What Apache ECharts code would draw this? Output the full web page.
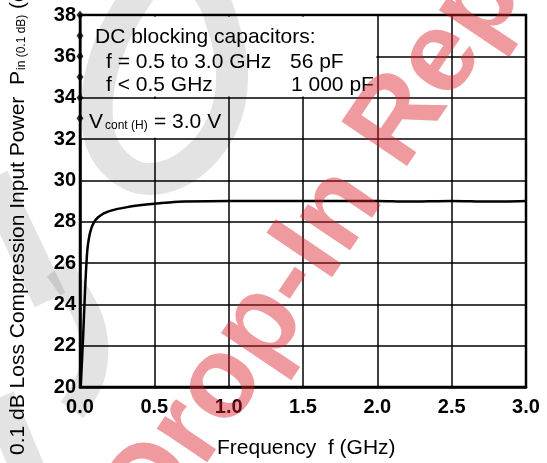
<!DOCTYPE html>
<html>
<head>
<meta charset="utf-8">
<script src="https://cdn.jsdelivr.net/npm/echarts@6/dist/echarts.min.js"></script>
<style>
html,body{margin:0;padding:0;background:#fff;}
#c{width:547px;height:463px;}
</style>
</head>
<body>
<div id="c"></div>
<script>
// ---- data ----
const freqGHz = [0.005, 0.022, 0.036, 0.049, 0.06, 0.075, 0.095, 0.12, 0.16, 0.22, 0.3, 0.4, 0.5, 0.6, 0.7, 1.0, 1.5, 2.0, 2.2, 2.5, 2.75, 3.0];
const pinDbm  = [20.0, 22.6, 25.0, 26.6, 27.2, 27.65, 27.98, 28.2, 28.4, 28.56, 28.68, 28.79, 28.87, 28.93, 28.97, 29.0, 29.0, 29.0, 28.97, 29.0, 28.97, 29.0];
const xTicks = [0.0, 0.5, 1.0, 1.5, 2.0, 2.5, 3.0];
const yTicks = [20, 22, 24, 26, 28, 30, 32, 34, 36, 38];
const axisDotValues = [33, 34, 35, 36, 37, 38];
// white boxes behind the annotations (data units): [x0, y0, x1, y1]
const boxMain = [0.012, 37.92, 1.993, 34.06];
const boxVcont = [0.012, 33.94, 0.994, 32.06];

const FONT = '"Liberation Sans", Arial, Helvetica, sans-serif';
const chart = echarts.init(document.getElementById('c'), null, {renderer: 'canvas'});

function txt(text, x, y, size, extra) {
  return Object.assign({
    type: 'text', x: x, y: y, z: 50,
    style: {
      text: text, font: size + 'px ' + FONT, fill: '#000',
      align: 'left', verticalAlign: 'middle',
      textAlign: 'left', textVerticalAlign: 'middle'
    }
  }, extra || {});
}
// faint grey background watermark strokes (decoration, page pixels)
function greyStroke(points, width) {
  return {
    type: 'polyline', z: 40, silent: true,
    shape: {points: points, smooth: 0.35},
    style: {stroke: 'rgba(0,0,0,0.11)', lineWidth: width, fill: null, lineCap: 'butt', lineJoin: 'round'}
  };
}

const wmAngle = 56 * Math.PI / 180;

const option = {
  backgroundColor: '#fff',
  animation: false,
  grid: {left: 80, right: 21, top: 15, bottom: 76, show: true, borderColor: '#000', borderWidth: 2.5, containLabel: false},
  xAxis: {
    type: 'value', min: xTicks[0], max: xTicks[xTicks.length - 1], interval: 0.5,
    axisLine: {show: true, lineStyle: {color: '#000', width: 2.5}},
    axisTick: {show: false},
    splitLine: {show: true, lineStyle: {color: '#000', width: 1.5}},
    axisLabel: {color: '#000', fontSize: 20, fontWeight: 'bold', fontFamily: FONT, margin: 10,
      formatter: v => v.toFixed(1)}
  },
  yAxis: {
    type: 'value', min: yTicks[0], max: yTicks[yTicks.length - 1], interval: 2,
    axisLine: {show: true, lineStyle: {color: '#000', width: 2.5}},
    axisTick: {show: false},
    splitLine: {show: true, lineStyle: {color: '#000', width: 1.5}},
    axisLabel: {color: '#000', fontSize: 20, fontWeight: 'bold', fontFamily: FONT, margin: 4}
  },
  series: [
    {
      type: 'line',
      data: freqGHz.map((f, i) => [f, pinDbm[i]]),
      smooth: 0.25,
      symbol: 'none',
      lineStyle: {color: '#000', width: 2.5},
      z: 4,
      silent: true,
      markArea: {
        silent: true,
        itemStyle: {color: '#fff', opacity: 1},
        label: {show: false},
        data: [
          [{coord: [boxMain[0], boxMain[1]]}, {coord: [boxMain[2], boxMain[3]]}],
          [{coord: [boxVcont[0], boxVcont[1]]}, {coord: [boxVcont[2], boxVcont[3]]}]
        ]
      }
    },
    {
      type: 'scatter',
      data: axisDotValues.map(v => [0, v]),
      symbol: 'diamond',
      symbolSize: [7, 9],
      itemStyle: {color: '#000'},
      silent: true,
      z: 6
    }
  ],
  graphic: [
    greyStroke([[142, -12], [112, 40], [97, 100], [105, 150], [140, 178], [185, 168], [222, 125], [232, 70], [218, 10], [206, -12]], 32),
    greyStroke([[-8, 178], [50, 300]], 34),
    greyStroke([[58, 268], [90, 322], [92, 372], [72, 410]], 28),
    greyStroke([[-2, 398], [28, 470]], 34),
    txt('DC blocking capacitors:', 95, 37.5, 21),
    txt('f = 0.5 to 3.0 GHz', 106, 62, 21),
    txt('56 pF', 290, 62, 21),
    txt('f < 0.5 GHz', 106, 85, 21),
    txt('1 000 pF', 291, 85, 21),
    txt('V', 89, 122, 21),
    txt('cont (H)', 105, 125.5, 12),
    txt('= 3.0 V', 154, 122, 21),
    txt('Frequency  f (GHz)', 217, 448, 21),
    {
      type: 'group', x: 18, y: 455, rotation: Math.PI / 2, z: 50,
      children: [
        txt('0.1 dB Loss Compression Input Power', 0, 0, 21),
        txt('P', 370, 0, 21),
        txt('in (0.1 dB)', 385, 4, 12),
        txt('(dBm)', 446, 0, 21)
      ]
    },
    {
      type: 'text', x: 130, y: 520, rotation: wmAngle, z: 100, silent: true,
      style: {
        text: 'Drop-In Replacement', font: 'bold 115px ' + FONT,
        fill: 'rgba(220,30,40,0.45)',
        align: 'left', verticalAlign: 'middle', textAlign: 'left', textVerticalAlign: 'middle'
      }
    }
  ]
};
chart.setOption(option);
</script>
</body>
</html>
